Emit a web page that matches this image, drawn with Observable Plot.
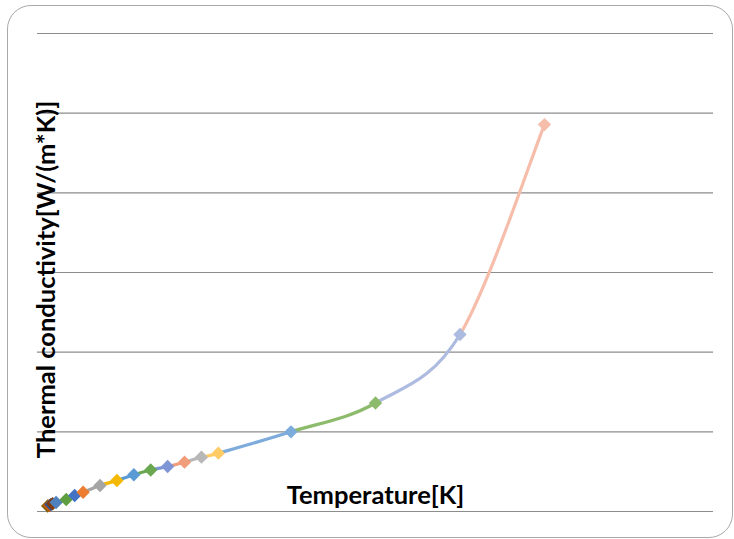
<!DOCTYPE html>
<html>
<head>
<meta charset="utf-8">
<script src="https://cdn.jsdelivr.net/npm/d3@7"></script>
<script src="https://cdn.jsdelivr.net/npm/@observablehq/plot@0.6"></script>
<style>
  html, body { margin: 0; padding: 0; background: #fff; overflow: hidden; }
  #wrap { position: relative; width: 734px; height: 539px; overflow: hidden; }
  #border { position: absolute; left: 7px; top: 5px; width: 724px; height: 531px;
    border: 1.3px solid #a9a9a9; border-radius: 24px; pointer-events: none; }
  #chart svg { display: block; }
</style>
</head>
<body>
<div id="wrap"><div id="chart"></div><div id="border"></div></div>
<script>
// Data
const temperature = [6, 7, 8, 9, 11, 17, 22, 27, 37, 47, 57, 67, 77, 87, 97, 107, 150, 200, 250, 300];
const conductivity = [6.9, 7.5, 8.8, 9.7, 11.3, 15.1, 20.1, 24.2, 32.6, 38.9, 46.1, 52.1, 56.5, 61.9, 68.2, 73.2, 100, 136.2, 222.2, 485.7];
const pointColors = ["#7f6000", "#c55a11", "#2f5597", "#843c0c", "#4e81bd", "#5f9e3f", "#4472c4", "#ed7d31", "#a5a5a5", "#f5b800",
  "#5b9bd5", "#6aa84f", "#7f96d6", "#f19c7a", "#b7b7b7", "#ffcb66", "#7cabdc", "#8dbb6c", "#aebbe0", "#f5bdaa"];
const yTicks = [0, 100, 200, 300, 400, 500, 600];
const xTitle = "Temperature[K]";
const yTitle = "Thermal conductivity[W/(m*K)]";

const points = temperature.map((t, i) => ({T: t, k: conductivity[i], color: pointColors[i]}));

// Each segment i -> i+1 carries its neighbours so the smooth curve stays continuous
const n = points.length;
const segRows = [];
for (let i = 0; i < n - 1; i++) {
  for (const j of [Math.max(0, i - 1), i, i + 1, Math.min(n - 1, i + 2)]) {
    segRows.push({T: points[j].T, k: points[j].k, seg: i, color: pointColors[i + 1]});
  }
}

// Custom curve: draws only the middle span of 4 points as a Catmull-Rom Bezier
function segmentCurve(context) {
  let pts;
  return {
    areaStart() {}, areaEnd() {},
    lineStart() { pts = []; },
    point(x, y) { pts.push([+x, +y]); },
    lineEnd() {
      if (pts.length < 4) return;
      const [p0, p1, p2, p3] = pts;
      context.moveTo(p1[0], p1[1]);
      context.bezierCurveTo(
        p1[0] + (p2[0] - p0[0]) / 6, p1[1] + (p2[1] - p0[1]) / 6,
        p2[0] - (p3[0] - p1[0]) / 6, p2[1] - (p3[1] - p1[1]) / 6,
        p2[0], p2[1]);
    }
  };
}

const font = "Lato, 'Open Sans', sans-serif";

const chart = Plot.plot({
  width: 734,
  height: 539,
  marginLeft: 37,
  marginRight: 21,
  marginTop: 33,
  marginBottom: 28,
  style: {background: "transparent", fontFamily: font},
  x: {domain: [0, 400], axis: null},
  y: {domain: [0, 600], axis: null},
  marks: [
    Plot.ruleY(yTicks, {stroke: "#8c8c8c", strokeWidth: 1.2}),
    Plot.text([yTitle], {frameAnchor: "left", textAnchor: "middle", rotate: -90, lineAnchor: "bottom", dx: 17, dy: 7,
      fontSize: 25.5, fontWeight: "bold", fill: "#000", fontFamily: font}),
    Plot.text([xTitle], {frameAnchor: "bottom", lineAnchor: "bottom", dy: -8,
      fontSize: 25.5, fontWeight: "bold", fill: "#000", fontFamily: font}),
    Plot.line(segRows, {x: "T", y: "k", z: "seg", stroke: "color", strokeWidth: 3.2,
      curve: segmentCurve, strokeLinecap: "butt"}),
    Plot.dot(points, {x: "T", y: "k", fill: "color", symbol: "diamond2", r: 6, stroke: "none"})
  ]
});
document.getElementById("chart").appendChild(chart);
</script>
</body>
</html>
